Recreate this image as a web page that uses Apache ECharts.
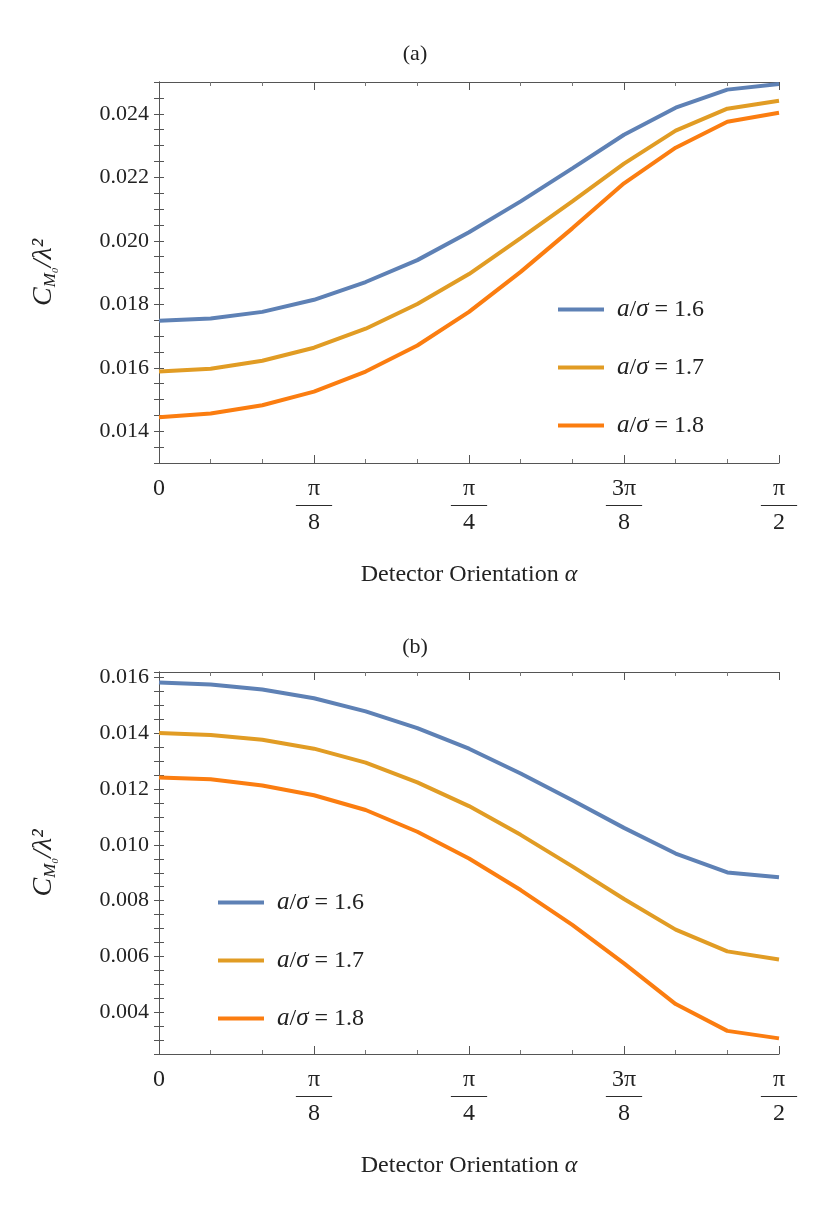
<!DOCTYPE html>
<html>
<head>
<meta charset="utf-8">
<script src="https://cdn.jsdelivr.net/npm/echarts@6/dist/echarts.min.js"></script>
<style>html,body{margin:0;padding:0;background:#fff}#chart{width:830px;height:1207px}</style>
</head>
<body>
<div id="chart"></div>
<script>
// alpha from 0 to pi/2 in steps of pi/24
const alphaSteps = [0, 1, 2, 3, 4, 5, 6, 7, 8, 9, 10, 11, 12];
const seriesNames = ['a/σ = 1.6', 'a/σ = 1.7', 'a/σ = 1.8'];
const colors = ['#5e81b5', '#e19c24', '#fb7d10'];

const panelA = [
    [0.01748, 0.01755, 0.01776, 0.01814, 0.01870, 0.01939, 0.02027, 0.02124, 0.02228, 0.02334, 0.02419, 0.02476, 0.02494],
    [0.01588, 0.01597, 0.01622, 0.01663, 0.01723, 0.01801, 0.01895, 0.02008, 0.02124, 0.02243, 0.02347, 0.02416, 0.02441],
    [0.01444, 0.01456, 0.01482, 0.01525, 0.01588, 0.01670, 0.01776, 0.01902, 0.02039, 0.02181, 0.02293, 0.02375, 0.02403]
];
const panelB = [
    [0.01582, 0.01575, 0.01557, 0.01526, 0.01479, 0.01419, 0.01345, 0.01256, 0.01160, 0.01061, 0.00969, 0.00901, 0.00884],
    [0.01401, 0.01394, 0.01377, 0.01345, 0.01295, 0.01224, 0.01139, 0.01036, 0.00923, 0.00806, 0.00696, 0.00618, 0.00589],
    [0.01242, 0.01235, 0.01213, 0.01178, 0.01125, 0.01047, 0.00951, 0.00838, 0.00713, 0.00575, 0.00429, 0.00333, 0.00306]
];
const xTickLabels = ['0', 'π/8', 'π/4', '3π/8', 'π/2'];

const font = 'Liberation Serif';
let myChart = echarts.init(document.getElementById('chart'));

function xAxes(gi) {
    const base = {
        type: 'value', gridIndex: gi, min: 0, max: 12, interval: 3,
        axisLine: {lineStyle: {color: '#555', width: 1}},
        axisTick: {inside: true, length: 8, lineStyle: {color: '#555'}},
        minorTick: {show: true, splitNumber: 3, length: 4, lineStyle: {color: '#777'}},
        splitLine: {show: false}
    };
    return [
        Object.assign({}, base, {
            position: 'bottom',
            name: '{t|Detector Orientation }{i|α}', nameLocation: 'middle', nameGap: 100,
            nameTextStyle: {rich: {
                t: {fontFamily: font, fontSize: 24, color: '#222'},
                i: {fontFamily: font, fontStyle: 'italic', fontSize: 24, color: '#222'}
            }},
            axisLabel: {
                margin: 14, fontFamily: font, color: '#222', fontSize: 24,
                formatter: function (v) {
                    const s = xTickLabels[v / 3];
                    if (s === '0') return '{z|0}';
                    const p = s.split('/');
                    return '{n|' + p[0] + '}\n{l|——}\n{d|' + p[1] + '}';
                },
                rich: {
                    z: {fontFamily: font, fontSize: 24, color: '#222'},
                    n: {fontFamily: font, fontSize: 24, color: '#222', lineHeight: 24},
                    l: {fontFamily: font, fontSize: 18, color: '#222', lineHeight: 8},
                    d: {fontFamily: font, fontSize: 24, color: '#222', lineHeight: 28}
                }
            }
        }),
        Object.assign({}, base, {position: 'top', axisLabel: {show: false}})
    ];
}

function yAxes(gi, min, max) {
    const base = {
        type: 'value', gridIndex: gi, min: min, max: max, interval: 0.0005,
        axisLine: {show: true, lineStyle: {color: '#555', width: 1}},
        axisTick: {inside: true, length: 5, lineStyle: {color: '#555'}},
        splitLine: {show: false}
    };
    return [
        Object.assign({}, base, {
            position: 'left',
            name: '{c|C}{s|M₀}{c|/λ²}', nameLocation: 'middle', nameGap: 100, nameRotate: 90,
            nameTextStyle: {rich: {
                c: {fontFamily: font, fontStyle: 'italic', fontSize: 28, color: '#222'},
                s: {fontFamily: font, fontStyle: 'italic', fontSize: 17, color: '#222', padding: [14, 0, 0, 0]}
            }},
            axisLabel: {
                fontFamily: font, fontSize: 22, color: '#222', margin: 10,
                formatter: function (v) {
                    const q = v / 0.002;
                    if (Math.abs(q - Math.round(q)) > 1e-6) return '';
                    return (Math.round(q) * 0.002).toFixed(3);
                }
            }
        }),
        Object.assign({}, base, {position: 'right', axisLabel: {show: false}})
    ];
}

function lines(data, gi) {
    return data.map(function (vals, i) {
        return {
            name: seriesNames[i], type: 'line',
            xAxisIndex: gi * 2, yAxisIndex: gi * 2,
            data: alphaSteps.map(function (s, k) { return [s, vals[k]]; }),
            showSymbol: false, symbol: 'none',
            lineStyle: {color: colors[i], width: 4},
            itemStyle: {color: colors[i]}
        };
    });
}

const legendFmt = function (n) { return '{i|a}{r|/}{i|σ}{r| = ' + n.split('= ')[1] + '}'; };
const legendText = {
    fontFamily: font, fontSize: 24, color: '#222', padding: [0, 0, 0, 8],
    rich: {
        i: {fontFamily: font, fontStyle: 'italic', fontSize: 25, color: '#222'},
        r: {fontFamily: font, fontSize: 24, color: '#222'}
    }
};

const options = {
    animation: false,
    backgroundColor: '#fff',
    title: [
        {text: '(a)', left: 'center', top: 38, textStyle: {fontFamily: font, fontSize: 22, fontWeight: 'normal', color: '#222'}},
        {text: '(b)', left: 'center', top: 631, textStyle: {fontFamily: font, fontSize: 22, fontWeight: 'normal', color: '#222'}}
    ],
    grid: [
        {left: 159, right: 51, top: 82, height: 381},
        {left: 159, right: 51, top: 672, height: 382}
    ],
    xAxis: xAxes(0).concat(xAxes(1)),
    yAxis: yAxes(0, 0.013, 0.025).concat(yAxes(1, 0.0025, 0.0162)),
    legend: [
        {data: seriesNames, orient: 'vertical', left: 553, top: 292, itemGap: 33,
         itemWidth: 46, itemHeight: 4, icon: 'rect', formatter: legendFmt, textStyle: legendText},
        {data: seriesNames, orient: 'vertical', left: 213, top: 885, itemGap: 33,
         itemWidth: 46, itemHeight: 4, icon: 'rect', formatter: legendFmt, textStyle: legendText}
    ],
    series: lines(panelA, 0).concat(lines(panelB, 1))
};
myChart.setOption(options);
</script>
</body>
</html>
